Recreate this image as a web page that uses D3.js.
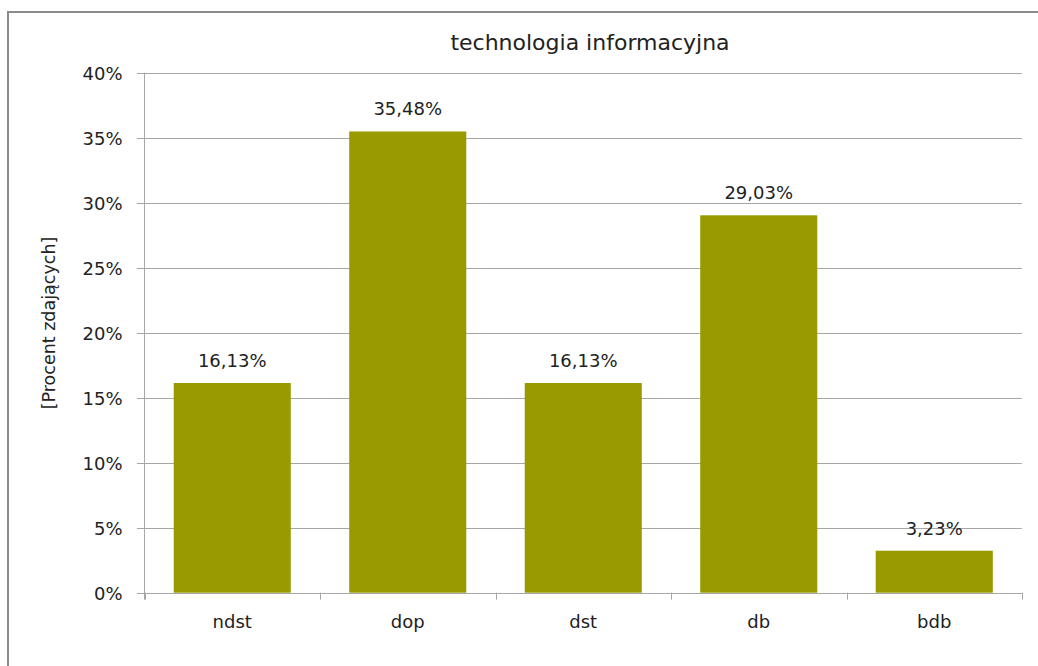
<!DOCTYPE html>
<html><head><meta charset="utf-8">
<script src="https://cdn.jsdelivr.net/npm/d3@7"></script>
<style>body{margin:0;background:#fff;} svg{display:block;} text{font-family:"DejaVu Sans",sans-serif;fill:#222;}</style>
</head><body>
<svg id="c" width="1038" height="666"></svg>
<script>
const categories = ["ndst","dop","dst","db","bdb"];
const values = [16.13, 35.48, 16.13, 29.03, 3.23];
const valueLabels = ["16,13%","35,48%","16,13%","29,03%","3,23%"];
const yTicks = [0,5,10,15,20,25,30,35,40];
const title = "technologia informacyjna";
const yTitle = "[Procent zdających]";

const svg = d3.select("#c");
const L = 144.5, R = 1022, T = 72.7, B = 592.7;
const FONT = "DejaVu Sans";

svg.append("rect").attr("x",8).attr("y",12).attr("width",1100).attr("height",700)
  .attr("fill","none").attr("stroke","#8c8c8c").attr("stroke-width",2);

const x = d3.scaleBand().domain(categories).range([L,R]).paddingInner(0.333).paddingOuter(0.1665);
const y = d3.scaleLinear().domain([0,40]).range([B,T]);

// gridlines
svg.append("g").selectAll("line").data(yTicks).join("line")
  .attr("x1",137).attr("x2",R).attr("y1",d=>Math.round(y(d))+0.5).attr("y2",d=>Math.round(y(d))+0.5)
  .attr("stroke","#a6a6a6").attr("stroke-width",1);

// y axis
const yAxis = d3.axisLeft(y).tickValues(yTicks).tickFormat(d=>d+"%").tickSize(0).tickPadding(22);
const yg = svg.append("g").attr("transform",`translate(${L},0)`).call(yAxis);
yg.select(".domain").remove();
yg.selectAll("text").attr("font-size",18).attr("font-family",FONT).attr("fill","#222").attr("dy","0.37em");
svg.append("line").attr("x1",L).attr("x2",L).attr("y1",T).attr("y2",B+7).attr("stroke","#a6a6a6");

// category ticks
const step = (R-L)/categories.length;
svg.append("g").selectAll("line").data(d3.range(categories.length+1)).join("line")
  .attr("x1",i=>Math.round(L+i*step)+0.5).attr("x2",i=>Math.round(L+i*step)+0.5)
  .attr("y1",B).attr("y2",B+7).attr("stroke","#a6a6a6");

// x axis labels
const xAxis = d3.axisBottom(x).tickSize(0).tickPadding(22.5);
const xg = svg.append("g").attr("transform",`translate(0,${B})`).call(xAxis);
xg.select(".domain").remove();
xg.selectAll("text").attr("font-size",18).attr("font-family",FONT).attr("fill","#222");

// bars
svg.append("g").selectAll("rect").data(values).join("rect")
  .attr("x",(d,i)=>x(categories[i])).attr("width",x.bandwidth())
  .attr("y",d=>y(d)).attr("height",d=>B-y(d))
  .attr("fill","#999900");

// value labels
svg.append("g").selectAll("text").data(values).join("text")
  .attr("x",(d,i)=>x(categories[i])+x.bandwidth()/2).attr("y",d=>y(d)-16)
  .attr("text-anchor","middle").attr("font-size",18).text((d,i)=>valueLabels[i]);

// title
svg.append("text").attr("x",590).attr("y",50).attr("text-anchor","middle")
  .attr("font-size",22).text(title);

// y title
svg.append("text").attr("transform","translate(55,323) rotate(-90)").attr("text-anchor","middle")
  .attr("font-size",17.5).text(yTitle);
</script>
</body></html>
